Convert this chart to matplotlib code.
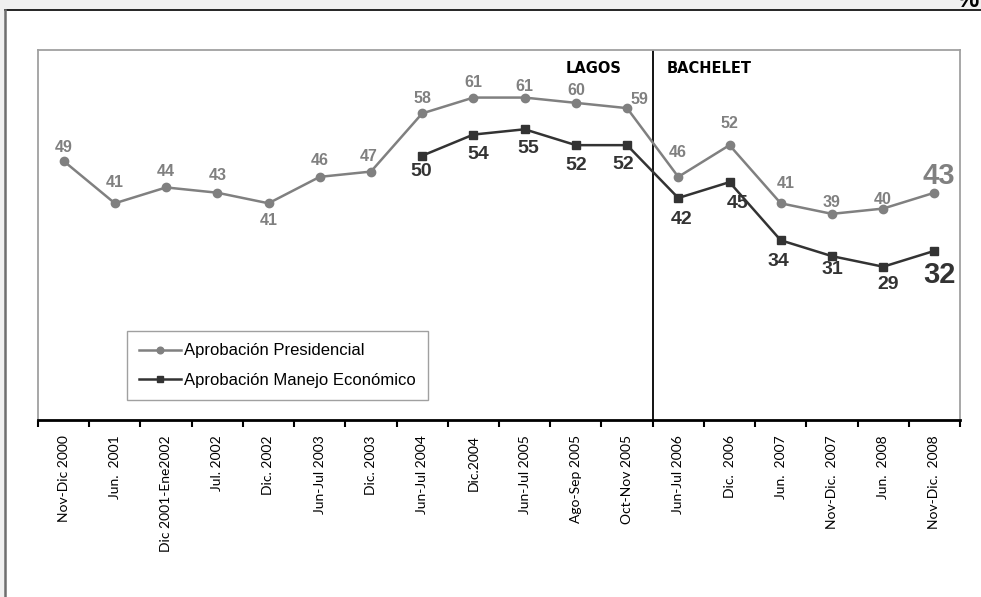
import numpy as np
import matplotlib
matplotlib.use('Agg')
import matplotlib.pyplot as plt
from matplotlib.patches import Rectangle
from matplotlib.lines import Line2D

periods = ['Nov-Dic 2000', 'Jun.  2001', 'Dic 2001-Ene2002', 'Jul. 2002', 'Dic. 2002',
           'Jun-Jul 2003', 'Dic. 2003', 'Jun-Jul 2004', 'Dic.2004', 'Jun-Jul 2005',
           'Ago-Sep 2005', 'Oct-Nov 2005', 'Jun-Jul 2006', 'Dic.  2006', 'Jun.  2007',
           'Nov-Dic.  2007', 'Jun.  2008', 'Nov-Dic.  2008']
presidencial = [49, 41, 44, 43, 41, 46, 47, 58, 61, 61, 60, 59, 46, 52, 41, 39, 40, 43]
economico = [50, 54, 55, 52, 52, 42, 45, 34, 31, 29, 32]   # from Jun-Jul 2004
econ_start = 7
cambio_gobierno = 11.5   # Lagos -> Bachelet

# label offsets in pixels (dx, dy)
pres_off = [(0, 13), (0, 21), (0, 16), (0, 17), (0, -17), (0, 16), (-2, 15), (0, 15),
            (0, 15), (0, 11), (0, 12), (12, 9), (-1, 24), (0, 22), (5, 20), (0, 11),
            (0, 9), (4, 17)]
econ_off = [(-1, -16), (5, -20), (4, -19), (0, -20), (-4, -19), (3, -22), (8, -21),
            (-2, -21), (0, -13), (5, -18), (5, -24)]

GRAY = '#808080'
DARK = '#333333'

fig = plt.figure(figsize=(9.81, 5.97), dpi=100)
fig.patch.set_facecolor('#f0f0f0')
W, H = 981, 597
fig.patches.append(Rectangle((5 / W, 0), 1, 1 - 9.5 / H, transform=fig.transFigure,
                             facecolor='white', edgecolor='none', zorder=-10))
fig.lines.append(Line2D([5 / W, 1], [1 - 9.5 / H] * 2, transform=fig.transFigure,
                        color='black', lw=1.2))
fig.lines.append(Line2D([5 / W] * 2, [0, 1 - 9.5 / H], transform=fig.transFigure,
                        color='#6e6e6e', lw=1.8))
fig.text(0.998, 1 - 7 / H, '%', ha='right', va='baseline', fontsize=18,
         fontweight='bold', family='Liberation Sans')

ax = fig.add_axes([38 / W, (H - 420) / H, 922 / W, 370 / H])
ax.set_zorder(5)
x = np.arange(len(periods))
xe = x[econ_start:econ_start + len(economico)]

ax.plot(x, presidencial, color=GRAY, lw=1.8, marker='o', ms=6,
        label='Aprobación Presidencial', zorder=3)
ax.plot(xe, economico, color=DARK, lw=1.8, marker='s', ms=6,
        label='Aprobación Manejo Económico', zorder=3)

for i, (v, off) in enumerate(zip(presidencial, pres_off)):
    big = i == len(presidencial) - 1
    ax.annotate(str(v), (x[i], v), xytext=off, textcoords='offset pixels',
                ha='center', va='center', color=GRAY, fontweight='bold',
                fontsize=21 if big else 11.5, family='Liberation Sans')
for i, (v, off) in enumerate(zip(economico, econ_off)):
    big = i == len(economico) - 1
    ax.annotate(str(v), (xe[i], v), xytext=off, textcoords='offset pixels',
                ha='center', va='center', color=DARK, fontweight='bold',
                fontsize=21 if big else 14, family='Liberation Sans')

ax.axvline(cambio_gobierno, color='black', lw=1.3)
ax.text(cambio_gobierno - 0.6, 66.5, 'LAGOS', ha='right', va='center',
        fontsize=10.5, fontweight='bold', family='DejaVu Sans')
ax.text(cambio_gobierno + 0.27, 66.5, 'BACHELET', ha='left', va='center',
        fontsize=10.5, fontweight='bold', family='DejaVu Sans')

ax.set_xlim(-0.5, len(periods) - 0.5)
ax.set_ylim(0, 70)
ax.set_yticks([])
ax.set_xticks(np.arange(-0.5, len(periods)))
ax.set_xticklabels([])
ax.set_xticks(x, minor=True)
ax.set_xticklabels(periods, minor=True, rotation=90, family='Lato', fontsize=10)
ax.tick_params(axis='x', which='major', length=5, width=1.5, direction='out', color='black')
ax.tick_params(axis='x', which='minor', length=0, pad=11)

for s in ['left', 'top', 'right']:
    ax.spines[s].set_color('#a0a0a0')
    ax.spines[s].set_linewidth(1.3)
ax.spines['bottom'].set_color('black')
ax.spines['bottom'].set_linewidth(2)

leg = ax.legend(loc='lower left', bbox_to_anchor=(0.0965, 0.054), borderaxespad=0,
                fancybox=False, edgecolor='#a0a0a0', framealpha=1,
                prop={'family': 'Liberation Sans', 'size': 12},
                handlelength=2.5, handletextpad=0.15, labelspacing=0.85, borderpad=0.75,
                markerscale=0.8)
leg.get_frame().set_linewidth(1.0)

fig.savefig('out.png', dpi=100)
